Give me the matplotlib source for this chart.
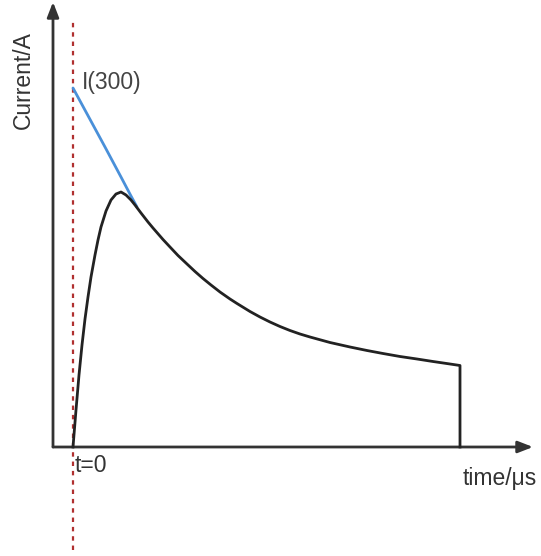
import matplotlib
matplotlib.use("Agg")
import matplotlib.pyplot as plt

# ---- data (arbitrary time / current units) ----
pulse_t = [0, 3, 6, 9, 12, 15, 18, 22, 25, 28, 33, 38, 43, 48, 53, 58, 62,
           68, 75, 80, 90, 97, 105, 114, 122, 130, 138, 147, 157, 164, 177,
           187, 197, 207, 217, 227, 237, 257, 277, 294, 310, 327, 344, 360, 375,
           387, 387]
pulse_i = [0, 37, 72, 102, 128, 150, 170, 192, 207, 220, 236, 247, 253, 255, 252, 247, 242,
           234, 225, 219, 207.5, 200, 191.5, 183, 175.5, 168.5, 162, 155, 148, 143.5, 135.5,
           130, 125, 120.5, 116.5, 113, 110, 104.5, 100, 96.5, 93.5, 90.5, 88, 85.5, 83.3,
           81.5, 0]

extrap_t = [0, 16, 32, 48, 58, 64]
extrap_i = [359, 329.5, 300, 270, 251, 240]

x_axis_start, x_axis_end = -20, 460
y_axis_top = 445
t0_line = (-103, 427)

AX_COLOR = "#333333"
FONT = ["Liberation Sans", "DejaVu Sans"]

fig = plt.figure(figsize=(5.41, 5.56), dpi=100)
ax = fig.add_axes([0, 0, 1, 1])
ax.set_xlim(-73, 468)
ax.set_ylim(-109, 447)
ax.axis("off")

# ---- axes with arrow heads ----
arrow = dict(arrowstyle="-|>,head_length=0.9,head_width=0.35", color=AX_COLOR,
             lw=2, shrinkA=0, shrinkB=0)
ax.annotate("", xy=(x_axis_end, 0), xytext=(x_axis_start, 0), arrowprops=arrow)
ax.annotate("", xy=(x_axis_start, y_axis_top), xytext=(x_axis_start, 0), arrowprops=arrow)

# ---- t=0 marker ----
ax.plot([0, 0], t0_line, color="#b03030", lw=1.6, linestyle=(0, (2, 2.2)), zorder=1)

# ---- curves ----
ax.plot(extrap_t, extrap_i, color="#4a90d9", lw=2, solid_capstyle="round",
        solid_joinstyle="round", zorder=2)
ax.plot(pulse_t, pulse_i, color="#222222", lw=2, solid_joinstyle="round", zorder=3)

# ---- labels ----
ax.text(-50, 367, "Current/A", rotation=90, ha="center", va="center",
        fontsize=16.5, color=AX_COLOR, family=FONT)
ax.text(9, 365, "I(300)", ha="left", va="center", fontsize=16.5, color="#444444", family=FONT)
ax.text(2, -19, "t=0", ha="left", va="center", fontsize=16.5, color=AX_COLOR, family=FONT)
ax.text(427, -31, "time/μs", ha="center", va="center", fontsize=16.5, color=AX_COLOR, family=FONT)

fig.savefig("out.png", dpi=100)
